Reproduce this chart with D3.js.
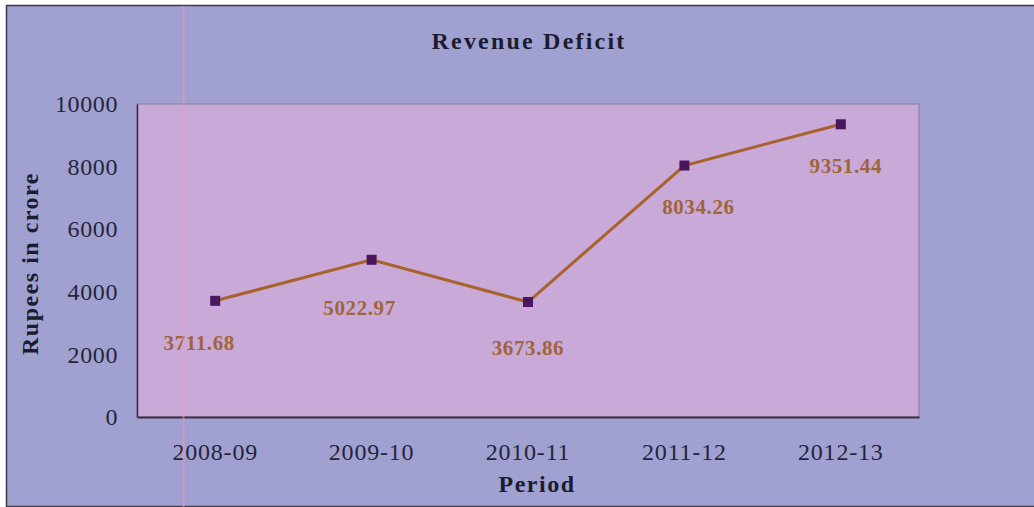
<!DOCTYPE html>
<html>
<head>
<meta charset="utf-8">
<script src="https://cdn.jsdelivr.net/npm/d3@7"></script>
<style>
  body { margin: 0; background: #fff; }
  svg { display: block; }
</style>
</head>
<body>
<figure id="chart" style="margin:0"></figure>
<script>
const periods = ["2008-09", "2009-10", "2010-11", "2011-12", "2012-13"];
const deficit = [3711.68, 5022.97, 3673.86, 8034.26, 9351.44];
const yTicks = [0, 2000, 4000, 6000, 8000, 10000];

const W = 1034, H = 507;
const plot = { left: 137, top: 104, right: 919, bottom: 417 };

const svg = d3.select("#chart").append("svg")
  .attr("width", W).attr("height", H);

// outer chart area
svg.append("rect")
  .attr("x", 6.5).attr("y", 5.5)
  .attr("width", W).attr("height", H - 6)
  .attr("fill", "#a0a1d1")
  .attr("stroke", "#3a3a4a").attr("stroke-width", 1.5);

// plot area
svg.append("rect")
  .attr("x", plot.left).attr("y", plot.top)
  .attr("width", plot.right - plot.left).attr("height", plot.bottom - plot.top)
  .attr("fill", "#c9a9d7")
  .attr("stroke", "#8a7a98").attr("stroke-width", 1);

const x = d3.scaleBand()
  .domain(periods)
  .range([plot.left, plot.right]);

const y = d3.scaleLinear()
  .domain([0, 10000])
  .range([plot.bottom, plot.top]);

// Y axis
svg.append("g")
  .attr("transform", "translate(" + plot.left + ",0)")
  .call(d3.axisLeft(y).tickValues(yTicks).tickSize(0).tickPadding(19).tickFormat(d3.format("d")))
  .call(g => g.select(".domain").attr("stroke", "#3a3040").attr("stroke-width", 1.5))
  .selectAll("text")
  .attr("font-family", "Liberation Serif")
  .attr("font-size", 24)
  .attr("letter-spacing", 0.6)
  .attr("fill", "#25253a");

// X axis
svg.append("g")
  .attr("transform", "translate(0," + plot.bottom + ")")
  .call(d3.axisBottom(x).tickSize(0).tickPadding(26))
  .call(g => g.select(".domain").attr("stroke", "#3a3040").attr("stroke-width", 2))
  .selectAll("text")
  .attr("font-family", "Liberation Serif")
  .attr("font-size", 24)
  .attr("letter-spacing", 0.8)
  .attr("fill", "#25253a");

// titles
svg.append("text")
  .attr("x", 529).attr("y", 49)
  .attr("text-anchor", "middle")
  .attr("font-family", "Liberation Serif").attr("font-weight", "bold")
  .attr("font-size", 24).attr("letter-spacing", 2.2).attr("fill", "#1c1c30")
  .text("Revenue Deficit");

svg.append("text")
  .attr("x", 537).attr("y", 492)
  .attr("text-anchor", "middle")
  .attr("font-family", "Liberation Serif").attr("font-weight", "bold")
  .attr("font-size", 24).attr("letter-spacing", 1.5).attr("fill", "#1c1c30")
  .text("Period");

svg.append("text")
  .attr("transform", "translate(38," + ((plot.top + plot.bottom) / 2 + 3) + ") rotate(-90)")
  .attr("text-anchor", "middle")
  .attr("font-family", "Liberation Serif").attr("font-weight", "bold")
  .attr("font-size", 24).attr("letter-spacing", 1.5).attr("fill", "#1c1c30")
  .text("Rupees in crore");

// line
const cx = (d, i) => x(periods[i]) + x.bandwidth() / 2;
const line = d3.line()
  .x((d, i) => cx(d, i))
  .y(d => y(d));

svg.append("path")
  .datum(deficit)
  .attr("d", line)
  .attr("fill", "none")
  .attr("stroke", "#a8622c")
  .attr("stroke-width", 3);

// markers
svg.selectAll("rect.marker")
  .data(deficit)
  .enter()
  .append("rect")
  .attr("class", "marker")
  .attr("x", (d, i) => cx(d, i) - 5)
  .attr("y", d => y(d) - 5)
  .attr("width", 10).attr("height", 10)
  .attr("fill", "#4a165e");

// data labels
const labelDx = [-16, -12, 0, 14, 5];
const labelDy = [49, 55, 53, 48, 49];
svg.selectAll("text.label")
  .data(deficit)
  .enter()
  .append("text")
  .attr("class", "label")
  .attr("x", (d, i) => cx(d, i) + labelDx[i])
  .attr("y", (d, i) => y(d) + labelDy[i])
  .attr("text-anchor", "middle")
  .attr("font-family", "Liberation Serif").attr("font-weight", "bold")
  .attr("font-size", 21).attr("letter-spacing", 0.6).attr("fill", "#a0643a")
  .text(d => d3.format(".2f")(d));

// scan artefact: faint pink vertical line
svg.append("line")
  .attr("x1", 183.5).attr("x2", 183.5)
  .attr("y1", 6).attr("y2", H)
  .attr("stroke", "#e59ac0").attr("stroke-width", 2).attr("opacity", 0.55);
</script>
</body>
</html>
